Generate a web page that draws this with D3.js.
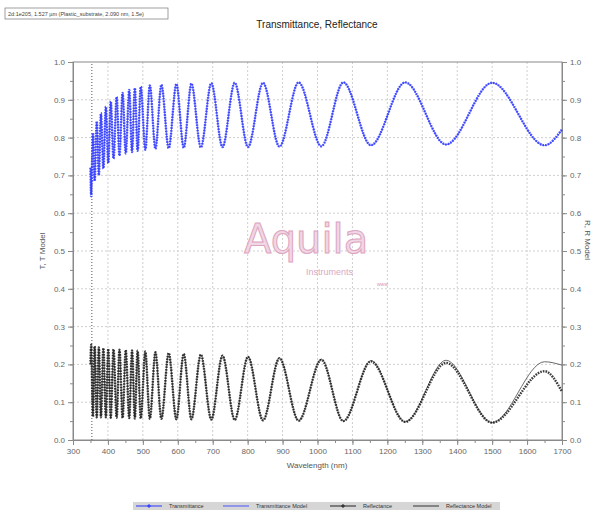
<!DOCTYPE html>
<meta charset="utf-8">
<style>
  body { margin: 0; padding: 0; background: white; }
  svg { background: white; font-family: "Liberation Sans", Arial, sans-serif; }
  .grid line { stroke: #cfcfcf; stroke-dasharray: 2,2; }
  .axis path, .axis line { stroke: #8a8a8a; }
  .axis text { fill: #666; font-size: 8px; }
</style>
<script src="https://d3js.org/d3.v7.min.js"></script>
<svg id="vis" width="598" height="512"></svg>
<script>

// extrema of the fringes (nm)
const wavelength = [350, 352, 357, 362, 368, 374, 380, 387, 394, 401, 408, 416, 425, 433, 442, 451, 461, 469, 477, 485,
  494, 507, 520, 536, 553, 574, 596, 617, 639, 666, 696, 728, 763, 801, 844, 891, 946, 1011, 1074, 1153,
  1251, 1368, 1500, 1650, 1700];

const transmittance = [0.72, 0.645, 0.812, 0.685, 0.843, 0.700, 0.865, 0.718, 0.882, 0.732, 0.896, 0.744, 0.908, 0.752, 0.918, 0.758, 0.926, 0.762, 0.931, 0.765,
  0.935, 0.768, 0.938, 0.770, 0.940, 0.772, 0.942, 0.773, 0.943, 0.774, 0.944, 0.775, 0.945, 0.775, 0.945, 0.776, 0.946, 0.777, 0.946, 0.780,
  0.946, 0.782, 0.945, 0.780, 0.822];

const transmittanceModel = [0.72, 0.650, 0.808, 0.688, 0.840, 0.702, 0.863, 0.719, 0.881, 0.733, 0.895, 0.745, 0.907, 0.752, 0.917, 0.758, 0.925, 0.762, 0.930, 0.765,
  0.934, 0.768, 0.937, 0.770, 0.940, 0.772, 0.942, 0.773, 0.943, 0.774, 0.944, 0.775, 0.945, 0.775, 0.945, 0.776, 0.946, 0.777, 0.946, 0.779,
  0.946, 0.781, 0.945, 0.779, 0.820];

const reflectance = [0.20, 0.252, 0.062, 0.248, 0.060, 0.245, 0.060, 0.243, 0.060, 0.241, 0.059, 0.240, 0.059, 0.239, 0.058, 0.238, 0.058, 0.237, 0.057, 0.236,
  0.057, 0.234, 0.056, 0.232, 0.056, 0.230, 0.055, 0.228, 0.055, 0.226, 0.054, 0.223, 0.053, 0.220, 0.052, 0.216, 0.051, 0.212, 0.050, 0.208,
  0.048, 0.204, 0.046, 0.182, 0.128];

const reflectanceModel = [0.20, 0.250, 0.063, 0.247, 0.061, 0.244, 0.060, 0.242, 0.060, 0.240, 0.059, 0.239, 0.059, 0.238, 0.058, 0.237, 0.058, 0.236, 0.057, 0.235,
  0.057, 0.234, 0.056, 0.232, 0.056, 0.230, 0.055, 0.228, 0.055, 0.226, 0.054, 0.224, 0.053, 0.221, 0.052, 0.218, 0.051, 0.214, 0.050, 0.210,
  0.048, 0.211, 0.046, 0.207, 0.198];

const xTicks = d3.range(300, 1701, 100);
const yTicks = d3.range(0, 1.01, 0.1);
const startLine = 354;

const legendItems = [
  {name: "Transmittance", color: "#2b35ff", marker: true},
  {name: "Transmittance Model", color: "#4a55ff", marker: false},
  {name: "Reflectance", color: "#222", marker: true},
  {name: "Reflectance Model", color: "#333", marker: false}
];

var svg = d3.select("#vis");

var x = d3.scaleLinear().domain([300, 1700]).range([73, 562]);
var y = d3.scaleLinear().domain([0, 1]).range([440, 62]);

// grid
var grid = svg.append("g").attr("class", "grid");
grid.selectAll("line.v").data(xTicks.slice(1, -1)).enter().append("line")
  .attr("x1", d => x(d)).attr("x2", d => x(d)).attr("y1", y(0)).attr("y2", y(1));
grid.selectAll("line.h").data(yTicks.slice(1, -1)).enter().append("line")
  .attr("y1", d => y(d)).attr("y2", d => y(d)).attr("x1", x(300)).attr("x2", x(1700));

// frame
svg.append("rect").attr("x", x(300)).attr("y", y(1))
  .attr("width", x(1700) - x(300)).attr("height", y(0) - y(1))
  .attr("fill", "none").attr("stroke", "#8a8a8a");

// watermark
var wm = svg.append("g");
wm.append("text").attr("x", 244).attr("y", 253).text("Aquila")
  .attr("font-family", "DejaVu Sans").attr("font-size", 40)
  .attr("fill", "#f1d6e3").attr("stroke", "#dca5c1").attr("stroke-width", 1);
wm.append("text").attr("x", 306).attr("y", 275).text("Instruments")
  .attr("font-size", 9).attr("fill", "#d9a9c2");
wm.append("text").attr("x", 377).attr("y", 286).text("www")
  .attr("font-size", 5).attr("fill", "#d98fb5");

// start-of-data marker
svg.append("line").attr("x1", x(startLine)).attr("x2", x(startLine))
  .attr("y1", y(0)).attr("y2", y(1))
  .attr("stroke", "#555").attr("stroke-dasharray", "1,2");

// axes
var xMinor = d3.range(300, 1701, 50);
var yMinor = d3.range(0, 1.001, 0.05);

svg.append("g").attr("class", "axis").attr("transform", `translate(0,${y(0)})`)
  .call(d3.axisBottom(x).tickValues(xMinor).tickSize(3).tickFormat(""));
svg.append("g").attr("class", "axis").attr("transform", `translate(0,${y(0)})`)
  .call(d3.axisBottom(x).tickValues(xTicks).tickSize(5).tickFormat(d3.format("d")));

svg.append("g").attr("class", "axis").attr("transform", `translate(${x(300)},0)`)
  .call(d3.axisLeft(y).tickValues(yMinor).tickSize(3).tickFormat(""));
svg.append("g").attr("class", "axis").attr("transform", `translate(${x(300)},0)`)
  .call(d3.axisLeft(y).tickValues(yTicks).tickSize(5).tickFormat(d3.format(".1f")));

svg.append("g").attr("class", "axis").attr("transform", `translate(${x(1700)},0)`)
  .call(d3.axisRight(y).tickValues(yMinor).tickSize(3).tickFormat(""));
svg.append("g").attr("class", "axis").attr("transform", `translate(${x(1700)},0)`)
  .call(d3.axisRight(y).tickValues(yTicks).tickSize(5).tickFormat(d3.format(".1f")));

svg.selectAll(".axis .domain").attr("stroke", "#8a8a8a");

// curves
function lineFor(values) {
  return d3.line()
    .x((d, i) => x(wavelength[i]))
    .y(d => y(d))
    .curve(d3.curveMonotoneX)(values);
}

svg.append("path").attr("d", lineFor(transmittanceModel))
  .attr("fill", "none").attr("stroke", "#4a55ff").attr("stroke-width", 0.8);
svg.append("path").attr("d", lineFor(transmittance))
  .attr("fill", "none").attr("stroke", "#2b35ff").attr("stroke-width", 2.4)
  .attr("stroke-dasharray", "1.6,1.1").attr("opacity", 0.85);

svg.append("path").attr("d", lineFor(reflectanceModel))
  .attr("fill", "none").attr("stroke", "#444").attr("stroke-width", 0.8);
svg.append("path").attr("d", lineFor(reflectance))
  .attr("fill", "none").attr("stroke", "#1a1a1a").attr("stroke-width", 2.4)
  .attr("stroke-dasharray", "1.6,1.1").attr("opacity", 0.85);

// titles
svg.append("text").attr("x", 317).attr("y", 28).attr("text-anchor", "middle")
  .attr("font-size", 10).attr("fill", "#222").text("Transmittance, Reflectance");

svg.append("text").attr("x", 317).attr("y", 468).attr("text-anchor", "middle")
  .attr("font-size", 8).attr("fill", "#555").text("Wavelength (nm)");

svg.append("text").attr("transform", "translate(45,251) rotate(-90)")
  .attr("text-anchor", "middle").attr("font-size", 8).attr("fill", "#555").text("T, T Model");

svg.append("text").attr("transform", "translate(585,240) rotate(90)")
  .attr("text-anchor", "middle").attr("font-size", 8).attr("fill", "#555").text("R, R Model");

// info box top-left
svg.append("rect").attr("x", 5).attr("y", 8).attr("width", 163).attr("height", 11)
  .attr("fill", "white").attr("stroke", "#777").attr("stroke-width", 0.7);
svg.append("text").attr("x", 8).attr("y", 16).attr("font-size", 5.5).attr("fill", "#444")
  .text("2d:1e205, 1.527 µm (Plastic_substrate, 2.090 nm, 1.5e)");

// legend
var lg = svg.append("g").attr("transform", "translate(133,502)");
lg.append("rect").attr("width", 367).attr("height", 8).attr("fill", "#d6d6d6");
var lx = [3, 90, 197, 280];
legendItems.forEach((d, i) => {
  var g = lg.append("g").attr("transform", `translate(${lx[i]},4)`);
  g.append("line").attr("x1", 0).attr("x2", 26).attr("stroke", d.color).attr("stroke-width", 1);
  if (d.marker) g.append("path").attr("d", "M13,-2V2M11,0H15").attr("stroke", d.color);
  g.append("text").attr("x", 33).attr("y", 2).attr("font-size", 5.5).attr("fill", "#333").text(d.name);
});

</script>
